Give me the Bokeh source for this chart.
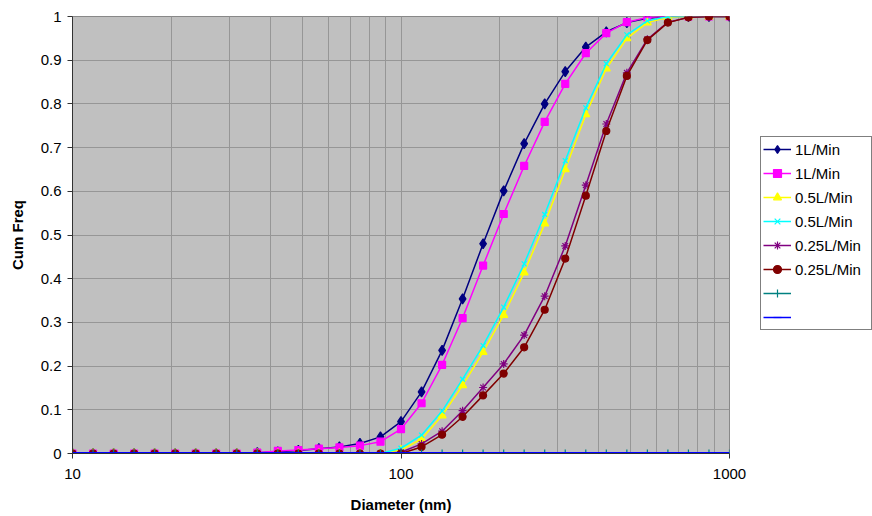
from bokeh.plotting import figure
from bokeh.layouts import row
from bokeh.models import FixedTicker, Legend, LegendItem
from bokeh.embed import file_html
from bokeh.resources import INLINE

diameter = [10, 11.55, 13.34, 15.4, 17.78, 20.54, 23.71, 27.38, 31.62, 36.52, 42.17,
            48.7, 56.23, 64.94, 74.99, 86.6, 100, 115.5, 133.4, 154.0, 177.8, 205.4,
            237.1, 273.8, 316.2, 365.2, 421.7, 487.0, 562.3, 649.4, 749.9, 866.0, 1000]

s1_1L = [0, 0, 0, 0, 0, 0, 0, 0, 0, 0.002, 0.004, 0.007, 0.011, 0.015, 0.023, 0.038,
         0.073, 0.141, 0.236, 0.354, 0.48, 0.601, 0.709, 0.8, 0.874, 0.93, 0.965,
         0.986, 0.996, 1, 1, 1, 1]
s2_1L = [0, 0, 0, 0, 0, 0, 0, 0, 0, 0.002, 0.006, 0.008, 0.011, 0.014, 0.018, 0.027,
         0.056, 0.115, 0.203, 0.31, 0.43, 0.548, 0.658, 0.759, 0.846, 0.916, 0.962,
         0.987, 0.998, 1, 1, 1, 1]
s3_05L = [0, 0, 0, 0, 0, 0, 0, 0, 0, 0, 0, 0, 0, 0, 0, 0,
          0.008, 0.033, 0.087, 0.156, 0.232, 0.317, 0.414, 0.526, 0.65, 0.776, 0.881,
          0.95, 0.986, 0.998, 1, 1, 1]
s4_05L = [0, 0, 0, 0, 0, 0, 0, 0, 0, 0, 0, 0, 0, 0, 0, 0,
          0.012, 0.042, 0.097, 0.17, 0.247, 0.335, 0.434, 0.547, 0.67, 0.791, 0.892,
          0.958, 0.99, 1, 1, 1, 1]
s5_025L = [0, 0, 0, 0, 0, 0, 0, 0, 0, 0, 0, 0, 0, 0, 0, 0,
           0.003, 0.022, 0.051, 0.098, 0.151, 0.205, 0.271, 0.36, 0.475, 0.614, 0.754,
           0.871, 0.948, 0.987, 0.998, 1, 1]
s6_025L = [0, 0, 0, 0, 0, 0, 0, 0, 0, 0, 0, 0, 0, 0, 0, 0,
           0, 0.015, 0.043, 0.084, 0.133, 0.183, 0.243, 0.329, 0.446, 0.59, 0.738,
           0.864, 0.946, 0.986, 0.998, 1, 1]
s7_blank = [0] * 33
s8_blank = [0] * 33

labels = ["1L/Min", "1L/Min", "0.5L/Min", "0.5L/Min", "0.25L/Min", "0.25L/Min", "", ""]
series = [s1_1L, s2_1L, s3_05L, s4_05L, s5_025L, s6_025L, s7_blank, s8_blank]
colors = ["#000080", "#FF00FF", "#FFFF00", "#00FFFF", "#800080", "#800000", "#008080", "#0000FF"]
markers = ["diamond", "square", "triangle", "x", "asterisk", "circle", "cross", "dash"]
msizes = [10, 7, 8, 7, 8, 7, 8, 6]
lwidths = [1.5, 1.5, 1.5, 1.5, 1.5, 1.5, 1.5, 3]

y_ticks = [0, 0.1, 0.2, 0.3, 0.4, 0.5, 0.6, 0.7, 0.8, 0.9, 1]
y_tick_labels = ["0", "0.1", "0.2", "0.3", "0.4", "0.5", "0.6", "0.7", "0.8", "0.9", "1"]
x_ticks = [10, 100, 1000]
x_grid = [10, 20, 30, 40, 50, 60, 70, 80, 90, 100, 200, 300, 400, 500, 600, 700, 800, 900, 1000]

FONT = "Liberation Sans"

p = figure(width=760, height=516, x_axis_type="log", x_range=(10, 1000), y_range=(0, 1),
           output_backend="svg", toolbar_location=None,
           min_border_left=72, min_border_right=31, min_border_top=16, min_border_bottom=63)
p.background_fill_color = "#C0C0C0"
p.border_fill_color = "white"
p.outline_line_color = "#888888"

p.xaxis.ticker = FixedTicker(ticks=x_ticks)
p.xaxis.major_label_overrides = {10: "10", 100: "100", 1000: "1000"}
p.yaxis.ticker = FixedTicker(ticks=y_ticks)
p.yaxis.major_label_overrides = {t: l for t, l in zip(y_ticks, y_tick_labels)}
p.xgrid.ticker = FixedTicker(ticks=x_grid)
p.ygrid.ticker = FixedTicker(ticks=y_ticks)
for g in (p.xgrid, p.ygrid):
    g.grid_line_color = "#969696"
    g.grid_line_width = 1

for ax in (p.xaxis, p.yaxis):
    ax.axis_line_color = "#333333"
    ax.major_tick_line_color = "#333333"
    ax.major_tick_in = 0
    ax.major_tick_out = 5
    ax.minor_tick_line_color = None
    ax.major_label_text_font = FONT
    ax.major_label_text_font_size = "15px"
    ax.major_label_text_color = "black"
    ax.axis_label_text_font = FONT
    ax.axis_label_text_font_size = "15px"
    ax.axis_label_text_font_style = "bold"
    ax.axis_label_text_color = "black"
p.xaxis.axis_label = "Diameter (nm)"
p.yaxis.axis_label = "Cum Freq"
p.xaxis.major_label_standoff = 10
p.yaxis.major_label_standoff = 6
p.xaxis.axis_label_standoff = 14
p.yaxis.axis_label_standoff = 12

# legend panel: a separate, axis-free figure; its series copies fall outside its ranges,
# so only their legend swatches are seen
lp = figure(width=112, height=516, output_backend="svg", toolbar_location=None,
            x_range=(0, 1), y_range=(0, 1), x_axis_location=None, y_axis_location=None,
            min_border_left=0, min_border_right=0, min_border_top=0, min_border_bottom=0)
lp.outline_line_color = None
lp.xgrid.grid_line_color = None
lp.ygrid.grid_line_color = None
lp.background_fill_color = "white"

items = []
for ys, lab, col, mk, ms, lw in zip(series, labels, colors, markers, msizes, lwidths):
    p.line(diameter, ys, line_color=col, line_width=lw)
    p.scatter(diameter, ys, marker=mk, size=ms, fill_color=col, line_color=col, line_width=1.2)
    ln = lp.line(diameter, ys, line_color=col, line_width=1.5)
    sc = lp.scatter(diameter, ys, marker=mk, size=ms, fill_color=col, line_color=col, line_width=1.2)
    items.append(LegendItem(label=lab, renderers=[ln, sc]))

legend = Legend(items=items, location=(0, 123))
legend.label_text_font = FONT
legend.label_text_font_size = "15px"
legend.label_text_color = "black"
legend.glyph_width = 28
legend.glyph_height = 20
legend.label_height = 20
legend.label_width = 74
legend.label_standoff = 4
legend.spacing = 4
legend.padding = 2
legend.margin = 0
legend.border_line_color = "black"
legend.border_line_width = 1
legend.background_fill_color = "white"
legend.background_fill_alpha = 1
lp.add_layout(legend, "center")

layout = row(p, lp, spacing=0)
open("out.html", "w").write(file_html(layout, INLINE))
